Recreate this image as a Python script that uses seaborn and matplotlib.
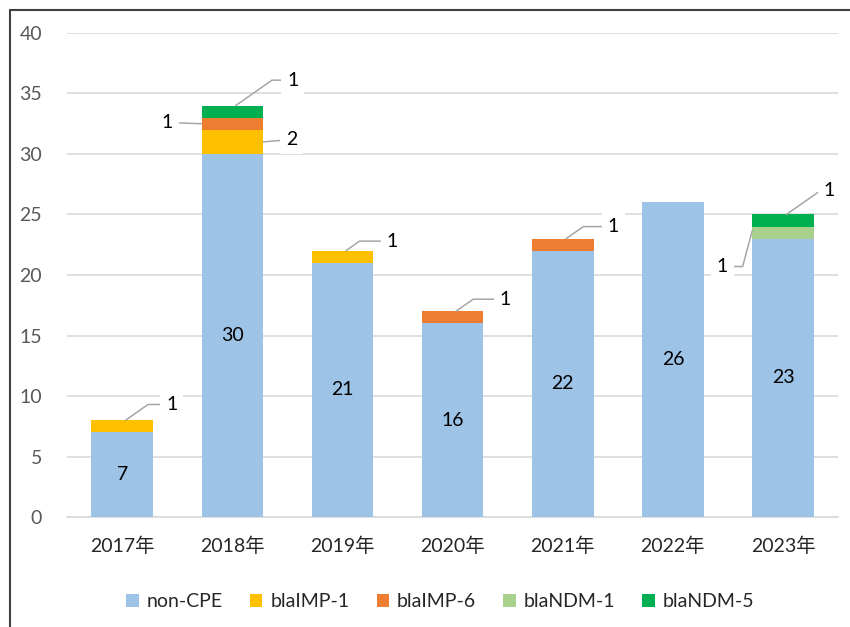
"""
Stacked bars of CPE genotypes per year
"""

import matplotlib.pyplot as plt
import pandas as pd
import seaborn as sns
from matplotlib.lines import Line2D
from matplotlib.patches import Patch


years = ["2017年", "2018年", "2019年", "2020年", "2021年", "2022年", "2023年"]
series = ["non-CPE", "blaIMP-1", "blaIMP-6", "blaNDM-1", "blaNDM-5"]
non_cpe = [7, 30, 21, 16, 22, 26, 23]
imp_1 = [1, 2, 1, 0, 0, 0, 0]
imp_6 = [0, 1, 0, 1, 1, 0, 0]
ndm_1 = [0, 0, 0, 0, 0, 0, 1]
ndm_5 = [0, 1, 0, 0, 0, 0, 1]

colors = {
    "non-CPE": "#9DC3E6",
    "blaIMP-1": "#FFC000",
    "blaIMP-6": "#ED7D31",
    "blaNDM-1": "#A9D18E",
    "blaNDM-5": "#00B050",
}

# callouts: (year index, series, where the leader starts, text dx, text y, line angle or None)
callouts = [
    (0, "blaIMP-1", "top", 0.45, 9.3, 35),
    (1, "blaNDM-5", "top", 0.55, 36.1, 35),
    (1, "blaIMP-6", "left", -0.59, 32.6, None),
    (1, "blaIMP-1", "right", 0.54, 31.2, None),
    (2, "blaIMP-1", "top", 0.45, 22.8, 35),
    (3, "blaIMP-6", "top", 0.48, 18.0, 35),
    (4, "blaIMP-6", "top", 0.46, 24.0, 35),
    (6, "blaNDM-5", "top", 0.42, 27.0, 35),
    (6, "blaNDM-1", "left_top", -0.55, 20.7, 75),
]


def build_frame():
    df = pd.DataFrame(
        {
            "year": years,
            "non-CPE": non_cpe,
            "blaIMP-1": imp_1,
            "blaIMP-6": imp_6,
            "blaNDM-1": ndm_1,
            "blaNDM-5": ndm_5,
        }
    )
    return df


def main():
    sns.set_style("white")
    plt.rcParams["font.family"] = ["Lato", "Noto Sans CJK JP", "DejaVu Sans"]

    df = build_frame()
    cum = df[series].cumsum(axis=1)

    fig = plt.figure(figsize=(8.5, 6.27), dpi=100)
    ax = fig.add_axes([0.079, 0.1754, 0.907, 0.772])

    bar_w = 0.56
    # draw cumulative totals from the top series down so each layer covers the next
    for s in reversed(series):
        sns.barplot(
            x=df["year"], y=cum[s], color=colors[s], width=bar_w,
            saturation=1, linewidth=0, ax=ax, zorder=3,
        )

    ax.set_ylim(0, 40)
    ax.set_xlim(-0.5, 6.5)
    ax.set_yticks(range(0, 41, 5))
    ax.yaxis.grid(True, color="#D9D9D9", linewidth=1.2, zorder=0)
    ax.set_axisbelow(True)
    sns.despine(ax=ax, left=True, top=True, right=True, bottom=False)
    ax.spines["bottom"].set_color("#D9D9D9")
    ax.spines["bottom"].set_linewidth(1.2)
    ax.tick_params(axis="y", labelsize=14, labelcolor="#595959", length=0, pad=18)
    ax.tick_params(axis="x", labelsize=14, labelcolor="#262626", length=0, pad=14)
    ax.set_xlabel("")
    ax.set_ylabel("")

    # values inside the non-CPE bars
    for i, v in enumerate(non_cpe):
        ax.text(i, v / 2, str(v), ha="center", va="center", fontsize=14,
                color="black", zorder=5)

    for i, s, where, dx, ty, ang in callouts:
        val = df.loc[i, s]
        top = cum.loc[i, s]
        mid = top - val / 2
        if where == "top":
            xy = (i + 0.03, top)
        elif where == "left":
            xy = (i - bar_w / 2, mid)
        elif where == "right":
            xy = (i + bar_w / 2, mid)
        else:
            xy = (i - bar_w / 2, top - val * 0.35)
        if ang is None:
            conn = "arc3"
        else:
            conn = f"angle,angleA=0,angleB={ang},rad=0"
        ax.annotate(
            str(val), xy=xy, xytext=(i + dx, ty), ha="center", va="center",
            fontsize=14, color="black", zorder=6,
            bbox=dict(boxstyle="square,pad=0.3", fc="white", ec="none"),
            arrowprops=dict(arrowstyle="-", color="#A6A6A6", lw=1.1,
                            connectionstyle=conn, shrinkA=0, shrinkB=0),
        )

    handles = [Patch(facecolor=colors[s], edgecolor="none", label=s) for s in series]
    fig.legend(
        handles=handles, loc="center", bbox_to_anchor=(0.518, 0.04), ncol=5,
        frameon=False, fontsize=14, handlelength=0.65, handleheight=0.65,
        handletextpad=0.4, columnspacing=1.4,
    )

    # chart frame, cut at the top and left like the source
    fig.add_artist(Line2D([0.0118, 0.0118], [0, 0.984], color="#404040", lw=1.5))
    fig.add_artist(Line2D([0.0118, 1], [0.984, 0.984], color="#404040", lw=1.5))

    fig.savefig("out.png", dpi=100)


if __name__ == "__main__":
    main()
